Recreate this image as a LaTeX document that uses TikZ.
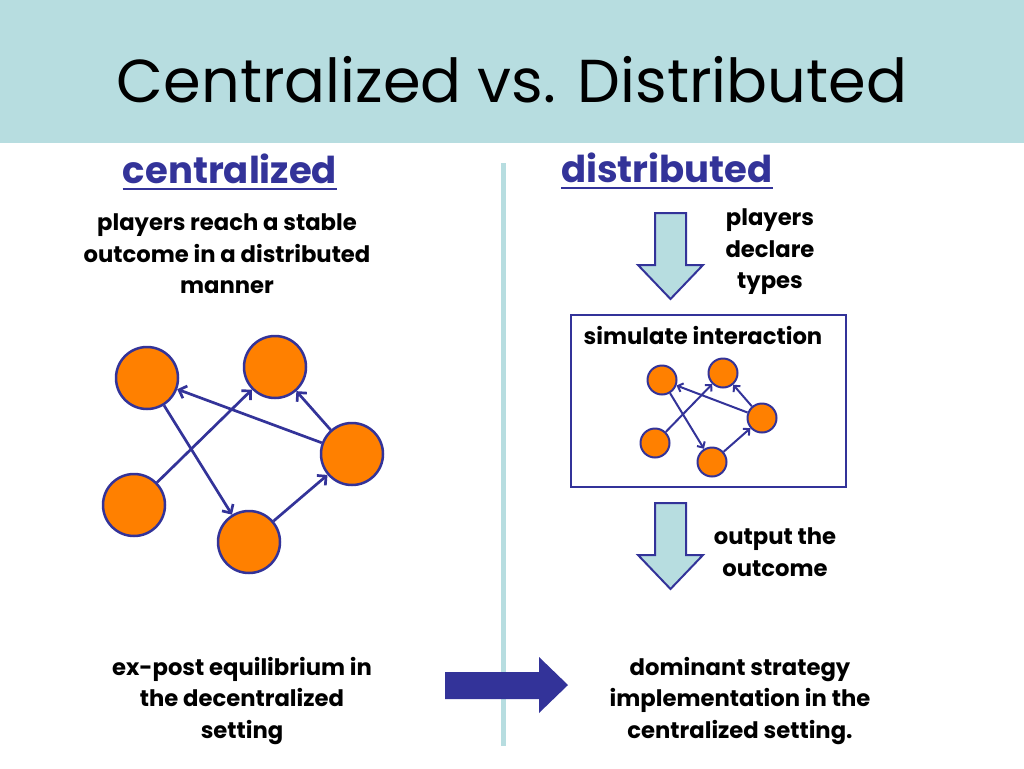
\documentclass[tikz,border=0pt]{standalone}
\usepackage{fontspec}
\setmainfont{Poppins}
\usetikzlibrary{arrows.meta}
\definecolor{hdr}{HTML}{B7DDE0}
\definecolor{navy}{HTML}{333399}
\definecolor{orng}{HTML}{FF8000}
\begin{document}
\begin{tikzpicture}[x=1pt,y=-1pt,
  big/.style={circle,draw=navy,line width=2.5pt,fill=orng,minimum size=62pt,inner sep=0},
  sml/.style={circle,draw=navy,line width=2pt,fill=orng,minimum size=29pt,inner sep=0},
  link/.style={draw=navy,line width=2.7pt,-{Straight Barb[length=6.5pt,width=13pt,line width=2.7pt]}},
  slink/.style={draw=navy,line width=2pt,-{Straight Barb[length=4.5pt,width=9pt,line width=2pt]}},
  body/.style={font=\fontsize{22.7}{31.5}\selectfont\bfseries,align=center,inner sep=0},
  head/.style={font=\fontsize{37}{42}\selectfont\bfseries,text=navy,inner sep=0},
  blockarrow/.style={draw=navy,line width=2pt,fill=hdr,line join=miter}]
\useasboundingbox (0,0) rectangle (1024,768);
\fill[white] (0,0) rectangle (1024,768);
% header band
\fill[hdr] (0,0) rectangle (1024,143);
\node[font=\fontsize{60.6}{64}\selectfont,inner sep=0,anchor=base] (title) at (512,102) {Centralized vs. Distributed};
% divider
\draw[hdr,line width=5pt] (503,163) -- (503,746);
% headings
\node[head,anchor=base] (hc) at (230,183) {centralized};
\draw[navy,line width=2.5pt] (hc.base west) ++(0,6) -- ([yshift=-6pt]hc.base east);
\node[head,anchor=base] (hd) at (667,182) {distributed};
\draw[navy,line width=2.5pt] (hd.base west) ++(0,6) -- ([yshift=-6pt]hd.base east);
% left text
\node[body] (lt) at (227,254) {players reach a stable\\outcome in a distributed\\manner};
% big graph
\node[big] (c1) at (147,378) {};
\node[big] (c2) at (275,367) {};
\node[big] (c3) at (352,454) {};
\node[big] (c4) at (134,505) {};
\node[big] (c5) at (249,542) {};
\draw[link] (c4) -- (c2);
\draw[link] (c3) -- (c1);
\draw[link] (c1) -- (c5);
\draw[link] (c5) -- (c3);
\draw[link] (c3) -- (c2);
% right column
\draw[blockarrow] (655,213) -- (686,213) -- (686,265) -- (703,265) -- (670.5,299) -- (638,265) -- (655,265) -- cycle;
\node[body] (pd) at (770,252) {players\\declare\\types};
\node[draw=navy,line width=2.5pt,minimum width=275pt,minimum height=172pt,inner sep=0] (box) at (708.5,401) {};
\node[body,anchor=base] (si) at (703,344) {simulate interaction};
\node[sml] (s1) at (662,380) {};
\node[sml] (s2) at (723,373) {};
\node[sml] (s3) at (762,418) {};
\node[sml] (s4) at (655,443) {};
\node[sml] (s5) at (712,462) {};
\draw[slink] (s4) -- (s2);
\draw[slink] (s3) -- (s1);
\draw[slink] (s1) -- (s5);
\draw[slink] (s5) -- (s3);
\draw[slink] (s3) -- (s2);
\draw[blockarrow] (655,503) -- (686,503) -- (686,555) -- (703,555) -- (670.5,589) -- (638,555) -- (655,555) -- cycle;
\node[body] (oo) at (775,552) {output the\\outcome};
% bottom
\node[body] (bl) at (242,701) {ex-post equilibrium in\\the decentralized\\setting};
\fill[navy] (445,672) -- (539,672) -- (539,657) -- (568,685) -- (539,713) -- (539,699) -- (445,699) -- cycle;
\node[body] (br) at (740,701) {dominant strategy\\implementation in the\\centralized setting.};
\end{tikzpicture}
\end{document}
